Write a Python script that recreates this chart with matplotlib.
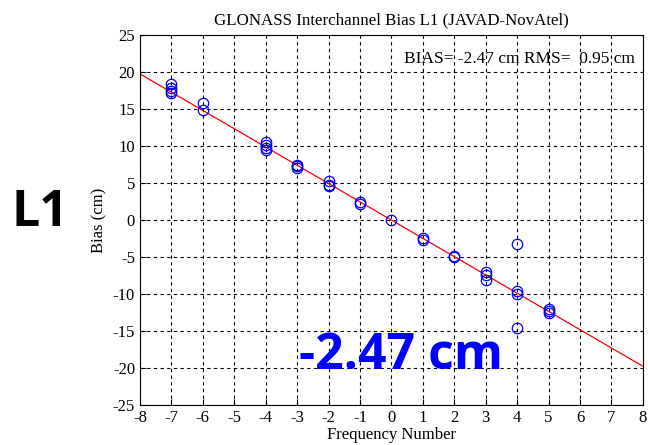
import matplotlib
matplotlib.use("Agg")
import matplotlib.pyplot as plt
import numpy as np

plt.rcParams['axes.unicode_minus'] = False
plt.rcParams['font.family'] = ['Liberation Serif', 'DejaVu Serif']

freq = [-7, -7, -7, -7, -6, -6, -4, -4, -4, -4, -3, -3, -3, -2, -2, -2,
        -1, -1, 0, 1, 1, 2, 2, 3, 3, 3, 4, 4, 4, 4, 5, 5, 5]
bias = [18.4, 17.8, 17.5, 17.2, 15.8, 14.9, 10.6, 10.1, 9.8, 9.5, 7.5, 7.3, 7.1,
        5.3, 4.8, 4.6, 2.4, 2.2, 0.0, -2.4, -2.7, -5.0, -4.9, -7.0, -7.4, -8.1,
        -3.2, -9.6, -10.0, -14.6, -12.0, -12.3, -12.5]
slope = -2.47
fit_x = [-8, 8]
xticks = list(range(-8, 9))
yticks = list(range(-25, 26, 5))

fig = plt.figure(figsize=(6.48, 4.45), dpi=100)
ax = fig.add_axes([0.216, 0.090, 0.776, 0.831])

ax.plot(fit_x, [slope * v for v in fit_x], color='red', lw=0.9, zorder=2)
ax.plot(freq, bias, linestyle='none', marker='o', markersize=7.5,
        markerfacecolor='none', markeredgecolor='blue', markeredgewidth=0.9, zorder=3)

ax.set_xlim(-8, 8)
ax.set_ylim(-25, 25)
ax.set_xticks(xticks)
ax.set_yticks(yticks)
ax.grid(True, color='black', linestyle=(0, (3, 3)), linewidth=0.8)
ax.tick_params(direction='in', labelsize=12, length=4)
for s in ax.spines.values():
    s.set_linewidth(0.8)

ax.set_title('GLONASS Interchannel Bias L1 (JAVAD-NovAtel)', fontsize=12.2, pad=8)
ax.set_xlabel('Frequency Number', fontsize=12, labelpad=1)
ax.set_ylabel('Bias (cm)', fontsize=12, labelpad=4)

ax.text(0.985, 0.958, 'BIAS= -2.47 cm RMS=  0.95 cm', transform=ax.transAxes,
        ha='right', va='top', fontsize=12.5)

fig.text(0.062, 0.522, 'L1', fontsize=36, fontweight='bold', color='black',
         family=['Open Sans', 'DejaVu Sans'], ha='center', va='center')
ax.text(0.3, -18.4, '-2.47 cm', fontsize=36, fontweight='bold', color='blue',
        family=['Open Sans', 'DejaVu Sans'], ha='center', va='center')

fig.savefig('out.png', dpi=100)
